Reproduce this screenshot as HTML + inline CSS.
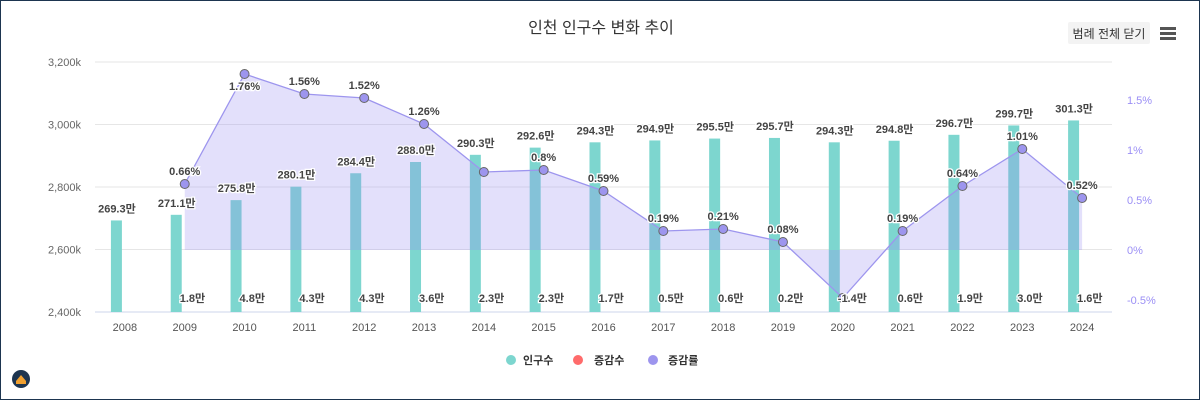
<!DOCTYPE html>
<html><head><meta charset="utf-8"><style>
body{margin:0;width:1200px;height:400px;overflow:hidden;background:#fff;font-family:"Liberation Sans","Noto Sans CJK KR",sans-serif;}
#wrap{position:absolute;left:0;top:0;width:1198px;height:398px;border:1px solid #1d3550;}
</style></head><body>
<div id="wrap">
<svg id="c" width="1198" height="398" xmlns="http://www.w3.org/2000/svg">
<text x="600" y="32" text-anchor="middle" font-size="16" fill="#333" font-family="Liberation Sans,Noto Sans CJK KR,sans-serif">인천 인구수 변화 추이</text>
<g><rect x="1067" y="21" width="82" height="22" rx="2" fill="#f3f3f3"/><text x="1108" y="37" text-anchor="middle" font-size="12" fill="#333" font-family="Liberation Sans,Noto Sans CJK KR,sans-serif">범례 전체 닫기</text></g>
<g fill="#555"><rect x="1159" y="26" width="16" height="3"/><rect x="1159" y="31" width="16" height="3"/><rect x="1159" y="36" width="16" height="3"/></g>
<g><circle cx="20" cy="378" r="9" fill="#1d3550"/><path d="M15 380 L20 374 L25 380 L25 383 L15 383Z" fill="#f0a030"/></g>
<g id="grid"></g><g id="bars"></g><g id="area"></g><g id="labels"></g>
<g font-size="11" font-weight="bold" fill="#333" font-family="Liberation Sans,Noto Sans CJK KR,sans-serif">
<g><circle cx="510" cy="359" r="5" fill="#7dd6cf"/><text x="522" y="363">인구수</text></g>
<g><circle cx="577" cy="359" r="5" fill="#ff6b6b"/><text x="593" y="363">증감수</text></g>
<g><circle cx="652" cy="359" r="5" fill="#9d95ee"/><text x="667" y="363">증감률</text></g>
</g>
</svg></div>
<script>
const years=["2008","2009","2010","2011","2012","2013","2014","2015","2016","2017","2018","2019","2020","2021","2022","2023","2024"];
const population=[269.3,271.1,275.8,280.1,284.4,288.0,290.3,292.6,294.3,294.9,295.5,295.7,294.3,294.8,296.7,299.7,301.3];
const change=[null,1.8,4.8,4.3,4.3,3.6,2.3,2.3,1.7,0.5,0.6,0.2,-1.4,0.6,1.9,3.0,1.6];
const rate=[null,0.66,1.76,1.56,1.52,1.26,0.78,0.8,0.59,0.19,0.21,0.08,-0.48,0.19,0.64,1.01,0.52];
const rateLabels=[null,"0.66%","1.76%","1.56%","1.52%","1.26%",null,"0.8%","0.59%","0.19%","0.21%","0.08%",null,"0.19%","0.64%","1.01%","0.52%"];
const leftTicks=[2400,2600,2800,3000,3200];
const rightTicks=[-0.5,0,0.5,1,1.5];
const NS="http://www.w3.org/2000/svg";
const L=94,R=1111,T=61,B=311;
const band=(R-L)/years.length;
const xc=i=>L+band*(i+0.5);
const yL=v=>B-(v-2400)/800*(B-T);
const yR=v=>249-v*100;
function mk(tag,attrs,parent,txt){const e=document.createElementNS(NS,tag);for(const k in attrs)e.setAttribute(k,attrs[k]);if(txt!==undefined)e.textContent=txt;parent.appendChild(e);return e;}
const F="Liberation Sans,Noto Sans CJK KR,sans-serif";
const grid=document.getElementById('grid');
leftTicks.forEach(t=>{
  const l=mk('line',{x1:L,x2:R,y1:yL(t),y2:yL(t),stroke:t===2400?'#ccd6eb':'#e6e6e6'},grid);
  
  
  const tx=mk('text',{x:80,y:yL(t)+4,'text-anchor':'end','font-size':11,fill:'#666','font-family':F},grid,t.toLocaleString('en-US')+'k');
  
  
});
rightTicks.forEach(t=>{
  const tx=mk('text',{x:1126,y:yR(t)+4,'font-size':11,fill:'#9b8ff5','font-family':F},grid,t+'%');
  
  
});
years.forEach((y,i)=>{
  const tx=mk('text',{x:xc(i),y:330,'text-anchor':'middle','font-size':11,fill:'#555','font-family':F},grid,y);
  
  
});
const bars=document.getElementById('bars');
population.forEach((v,i)=>{
  const y=yL(v*10);
  const r=mk('rect',{x:xc(i)-14,y:y,width:11,height:B-y,fill:'#7dd6cf'},bars);
  
  
});
const area=document.getElementById('area');
let pts=[];rate.forEach((v,i)=>{if(v!==null)pts.push([xc(i),yR(v)]);});
const d='M'+pts[0][0]+','+yR(0)+' '+pts.map(p=>'L'+p[0]+','+p[1]).join(' ')+' L'+pts[pts.length-1][0]+','+yR(0)+'Z';
const a=mk('path',{d:d,fill:'rgba(150,140,240,0.27)'},area);


const ln=mk('path',{d:'M'+pts.map(p=>p[0]+','+p[1]).join(' L'),fill:'none',stroke:'#9d95ee','stroke-width':1.3},area);


rate.forEach((v,i)=>{if(v===null)return;
  const c=mk('circle',{cx:xc(i),cy:yR(v),r:4.5,fill:'#9d95ee',stroke:'#666','stroke-width':1},area);
  
  
});
const lab=document.getElementById('labels');
const st={'font-size':11,fill:'#444','font-family':F,stroke:'#fff','stroke-width':2.5,'paint-order':'stroke','font-weight':'bold'};
population.forEach((v,i)=>{
  const t=mk('text',Object.assign({x:xc(i)-8,y:yL(v*10)-8,'text-anchor':'middle'},st),lab,v.toFixed(1)+'만');
  
  
});
change.forEach((v,i)=>{if(v===null)return;
  const t=mk('text',Object.assign({x:xc(i)-5,y:301},st),lab,v.toFixed(1)+'만');
  
  
});
rateLabels.forEach((s,i)=>{if(!s)return;
  const y=yR(rate[i]);
  const ty=(y-20<T)?y+16:y-9;
  const t=mk('text',Object.assign({x:xc(i),y:ty,'text-anchor':'middle'},st),lab,s);
  
  
});
</script>
</body></html>
